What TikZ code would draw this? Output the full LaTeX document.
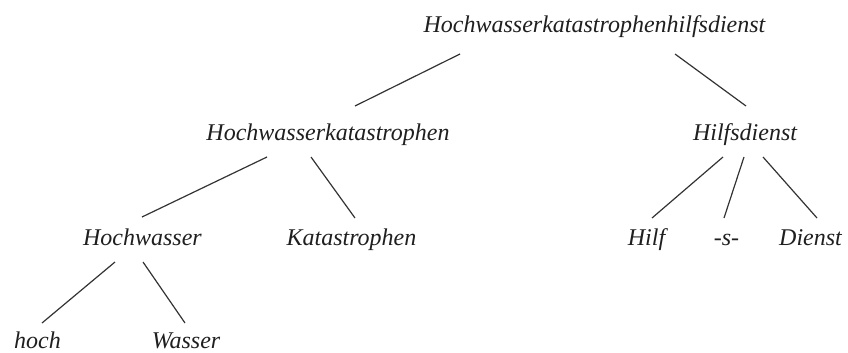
\documentclass[tikz,border=0pt]{standalone}
\usepackage{fontspec}
\setmainfont{Liberation Serif}
\begin{document}
\begin{tikzpicture}[x=1pt,y=1pt,
  word/.style={anchor=base,inner sep=0pt,font=\fontsize{24}{28}\selectfont\itshape,text=black!88},
  edge/.style={draw=black!80,line width=1.2pt}]
\useasboundingbox (0,0) rectangle (848,-353);
\node[word] (top) at (594.5,-33) {Hochwasserkatastrophenhilfsdienst};
\node[word] (hk) at (328,-140) {Hochwasserkatastrophen};
\node[word] (hd) at (745,-140) {Hilfsdienst};
\node[word] (hw) at (142.5,-245) {Hochwasser};
\node[word] (kat) at (351.5,-245) {Katastrophen};
\node[word] (hilf) at (646.5,-245) {Hilf};
\node[word] (s) at (726.5,-245) {-s-};
\node[word] (dienst) at (810.5,-245) {Dienst};
\node[word] (hoch) at (37.5,-348.5) {hoch};
\node[word] (wasser) at (186,-348.5) {Wasser};
\draw[edge] ([xshift=-134.5pt,yshift=-21pt]top.base) -- ([xshift=27pt,yshift=34pt]hk.base);
\draw[edge] ([xshift=80.5pt,yshift=-21pt]top.base) -- ([xshift=1pt,yshift=34pt]hd.base);
\draw[edge] ([xshift=-61pt,yshift=-17pt]hk.base) -- ([xshift=-0.5pt,yshift=28pt]hw.base);
\draw[edge] ([xshift=-17pt,yshift=-17pt]hk.base) -- ([xshift=3.5pt,yshift=27pt]kat.base);
\draw[edge] ([xshift=-27.5pt,yshift=-17pt]hw.base) -- ([xshift=4.5pt,yshift=25.5pt]hoch.base);
\draw[edge] ([xshift=0.5pt,yshift=-17pt]hw.base) -- ([xshift=-1pt,yshift=25.5pt]wasser.base);
\draw[edge] ([xshift=-22pt,yshift=-17pt]hd.base) -- ([xshift=5.5pt,yshift=27pt]hilf.base);
\draw[edge] ([xshift=-1pt,yshift=-17pt]hd.base) -- ([xshift=-2.5pt,yshift=27pt]s.base);
\draw[edge] ([xshift=18pt,yshift=-17pt]hd.base) -- ([xshift=6.5pt,yshift=27pt]dienst.base);
\end{tikzpicture}
\end{document}
